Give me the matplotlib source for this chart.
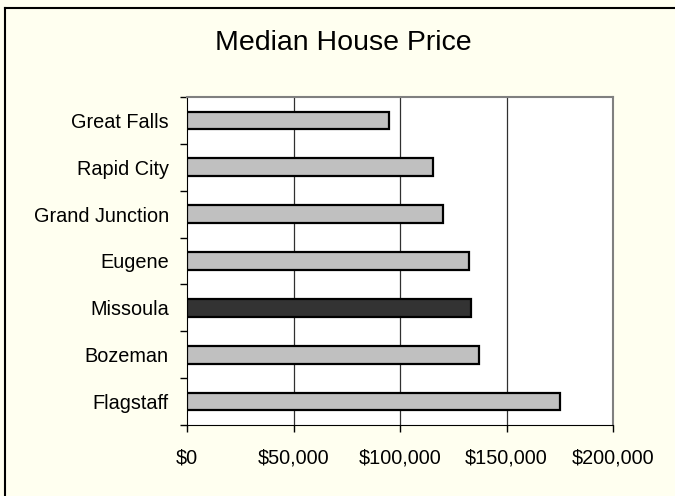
import matplotlib
matplotlib.use("Agg")
import matplotlib.pyplot as plt
from matplotlib.lines import Line2D
from matplotlib.ticker import FuncFormatter, FixedLocator

cities = ["Flagstaff", "Bozeman", "Missoula", "Eugene", "Grand Junction", "Rapid City", "Great Falls"]
prices = [175000, 137000, 133300, 132400, 120300, 115600, 95000]
highlight = "Missoula"
x_ticks = [0, 50000, 100000, 150000, 200000]
title = "Median House Price"

plt.rcParams['font.family'] = ['Liberation Sans', 'DejaVu Sans']

bg = "#FFFFF0"
fig = plt.figure(figsize=(6.75, 4.96), dpi=100, facecolor=bg)
ax = fig.add_axes([187/675, 1-425/496, (613-187)/675, (425-97)/496])
ax.set_facecolor("white")

colors = ["#333333" if c == highlight else "#C0C0C0" for c in cities]
ypos = list(range(len(cities)))
ax.barh(ypos, prices, height=0.38, color=colors, edgecolor="black", linewidth=1.6, zorder=3)

ax.set_xlim(0, 200000)
ax.set_ylim(-0.5, len(cities) - 0.5)
ax.set_xticks(x_ticks)
ax.xaxis.set_major_formatter(FuncFormatter(lambda v, p: "${:,.0f}".format(v)))
ax.set_yticks(ypos)
ax.set_yticklabels(cities)
ax.yaxis.set_minor_locator(FixedLocator([i - 0.5 for i in range(len(cities) + 1)]))

ax.tick_params(axis='y', which='major', length=0, pad=13, labelsize=14.3)
ax.tick_params(axis='y', which='minor', length=5, width=1, color='black', direction='out')
ax.tick_params(axis='x', which='major', length=5, width=1, direction='out', pad=12, labelsize=14.3)

for v in x_ticks[1:-1]:
    ax.axvline(v, color="#303030", linewidth=0.9, zorder=1)

ax.spines['top'].set_color("#808080")
ax.spines['right'].set_color("#808080")
ax.spines['top'].set_linewidth(1.5)
ax.spines['right'].set_linewidth(1.5)
ax.spines['left'].set_color("black")
ax.spines['bottom'].set_color("black")

fig.text(343/675, 1-50/496, title, ha='center', va='baseline', fontsize=20.5)

x0 = 5.5/675
y0 = 1 - 7.5/496
fig.add_artist(Line2D([x0, x0], [0, y0], transform=fig.transFigure, color="black", linewidth=1.5))
fig.add_artist(Line2D([x0, 1], [y0, y0], transform=fig.transFigure, color="black", linewidth=1.5))

fig.savefig("out.png", dpi=100, facecolor=bg)
